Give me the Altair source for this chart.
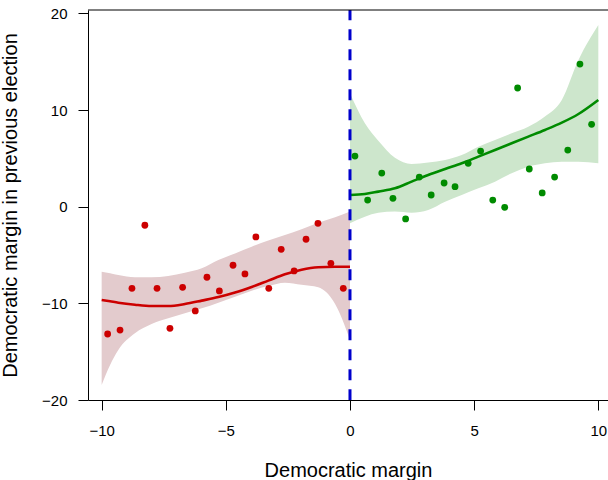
import altair as alt
import pandas as pd

# ---- data ----
red_x = [-9.76, -9.26, -8.78, -8.26, -7.77, -7.25, -6.74, -6.23, -5.76, -5.26,
         -4.71, -4.23, -3.79, -3.27, -2.77, -2.25, -1.77, -1.29, -0.77, -0.27]
red_y = [-13.17, -12.76, -8.44, -1.92, -8.44, -12.58, -8.34, -10.79, -7.30, -8.72,
         -6.06, -6.96, -3.13, -8.44, -4.41, -6.65, -3.37, -1.72, -5.86, -8.44]

green_x = [0.20, 0.71, 1.28, 1.73, 2.24, 2.79, 3.27, 3.79, 4.23, 4.76,
           5.26, 5.75, 6.23, 6.75, 7.22, 7.74, 8.24, 8.77, 9.26, 9.73]
green_y = [5.24, 0.69, 3.48, 0.87, -1.27, 3.07, 1.21, 2.45, 2.07, 4.49,
           5.76, 0.69, -0.06, 12.28, 3.90, 1.42, 3.07, 5.86, 14.76, 8.52]

red_fit_x = [-10.0, -9.66, -9.33, -8.66, -7.99, -7.32, -6.65, -5.97, -5.30,
             -4.63, -3.96, -3.29, -2.62, -1.95, -1.28, -0.60, 0.0]
red_fit = [-9.65, -9.79, -9.93, -10.14, -10.27, -10.27, -10.07, -9.72, -9.35,
           -8.88, -8.30, -7.65, -7.00, -6.52, -6.26, -6.21, -6.21]
red_hi = [-6.72, -6.89, -7.07, -7.31, -7.31, -7.17, -6.83, -6.38, -5.52,
          -4.83, -4.14, -3.51, -2.93, -2.34, -1.65, -1.10, -0.51]
red_lo = [-18.45, -16.38, -14.83, -13.10, -12.14, -11.55, -11.03, -10.52, -9.93,
          -9.31, -8.69, -8.21, -7.86, -8.07, -8.34, -10.07, -13.79]

green_fit_x = [0.0, 0.60, 1.14, 1.81, 2.48, 3.15, 3.83, 4.50, 5.17, 5.84,
               6.51, 7.18, 7.85, 8.53, 9.20, 10.0]
green_fit = [1.21, 1.31, 1.56, 1.90, 2.59, 3.28, 3.90, 4.49, 5.18, 5.87,
             6.56, 7.25, 7.94, 8.69, 9.59, 11.04]
green_hi = [11.73, 8.63, 6.83, 5.07, 4.42, 4.56, 4.83, 5.35, 6.21, 6.90,
            7.59, 8.28, 9.32, 11.04, 15.18, 18.80]
green_lo = [-1.72, -1.03, -0.62, -0.51, -0.62, -0.34, 0.52, 1.21, 1.90, 2.59,
            3.45, 4.14, 4.49, 4.66, 4.66, 4.49]

x_ticks = [-10, -5, 0, 5, 10]
y_ticks = [-20, -10, 0, 10, 20]
cutoff = [0]

# ---- frames ----
red_pts = pd.DataFrame({"x": red_x, "y": red_y})
green_pts = pd.DataFrame({"x": green_x, "y": green_y})
red_fit_df = pd.DataFrame({"x": red_fit_x, "y": red_fit, "lo": red_lo, "hi": red_hi})
green_fit_df = pd.DataFrame({"x": green_fit_x, "y": green_fit, "lo": green_lo, "hi": green_hi})

W, H = 520, 390
xscale = alt.Scale(domain=[-10.55, 10.39], nice=False, zero=False)
yscale = alt.Scale(domain=[-20, 20.35], nice=False, zero=False)

xaxis = alt.Axis(values=x_ticks, title="Democratic margin", tickSize=10,
                 labelPadding=13, titleY=76, titleBaseline="alphabetic",
                 labelFlush=False, labelOverlap=False)
yaxis = alt.Axis(values=y_ticks, title="Democratic margin in previous election",
                 tickSize=10, labelPadding=11, titleAngle=270, titleX=-72,
                 titleY=H / 2, titleBaseline="alphabetic", titleAlign="center",
                 labelFlush=False, labelOverlap=False)

def X(f):
    return alt.X(f, type="quantitative", scale=xscale, axis=xaxis)

def Y(f):
    return alt.Y(f, type="quantitative", scale=yscale, axis=yaxis)

RED = "#CC0000"
GREEN = "#008B00"

red_band = alt.Chart(red_fit_df).mark_area(color="#E3CBCD", opacity=1, interpolate="monotone").encode(
    x=X("x"), y=Y("lo"), y2="hi")
green_band = alt.Chart(green_fit_df).mark_area(color="#CDE6CC", opacity=1, interpolate="monotone").encode(
    x=X("x"), y=Y("lo"), y2="hi")
red_line = alt.Chart(red_fit_df).mark_line(color=RED, strokeWidth=2.6, interpolate="monotone").encode(
    x=X("x"), y=Y("y"))
green_line = alt.Chart(green_fit_df).mark_line(color=GREEN, strokeWidth=2.6, interpolate="monotone").encode(
    x=X("x"), y=Y("y"))
cut = alt.Chart(pd.DataFrame({"x": cutoff})).mark_rule(
    color="#0000CC", strokeWidth=3, strokeDash=[11, 9], strokeDashOffset=0.7).encode(
    x=X("x"), y=alt.value(0), y2=alt.value(H))
red_p = alt.Chart(red_pts).mark_circle(color=RED, size=46, opacity=1).encode(x=X("x"), y=Y("y"))
green_p = alt.Chart(green_pts).mark_circle(color=GREEN, size=46, opacity=1).encode(x=X("x"), y=Y("y"))
top = alt.Chart(pd.DataFrame({"a": [0]})).mark_rule(color="black", strokeWidth=1).encode(
    x=alt.value(0), x2=alt.value(W), y=alt.value(0))

chart = alt.layer(red_band, green_band, red_line, green_line, cut, red_p, green_p, top).properties(
    width=W, height=H,
    padding={"left": 88, "top": 10, "right": 0, "bottom": 80},
    autosize=alt.AutoSizeParams(type="none"),
).configure_view(stroke=None).configure_axis(
    labelFont="Liberation Sans", titleFont="Liberation Sans",
    labelColor="black", titleColor="black", domainColor="black", tickColor="black",
    domainWidth=1, tickWidth=1, grid=False, labelFontSize=15, titleFontSize=20,
    titleFontWeight="normal",
)

chart.save("out.html", embed_options={"renderer": "svg", "actions": False})
